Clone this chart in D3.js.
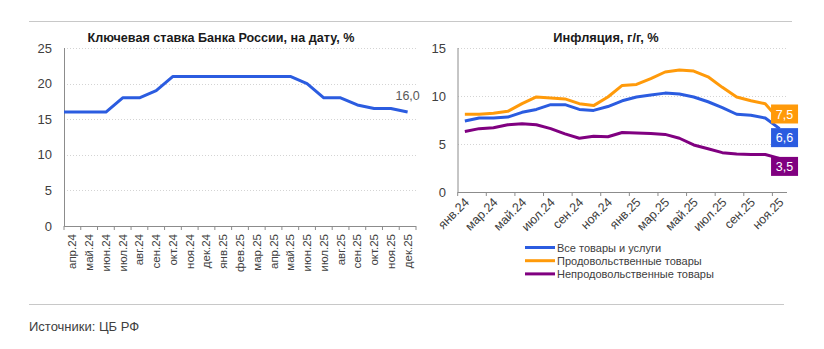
<!DOCTYPE html>
<html>
<head>
<meta charset="utf-8">
<script src="https://cdn.jsdelivr.net/npm/d3@7"></script>
<style>
  body { margin: 0; background: #fff; }
  text { font-family: "Liberation Sans", Arial, sans-serif; }
</style>
</head>
<body>
<svg id="chart" width="824" height="349"></svg>
<script>
// ключевая ставка, на конец месяца
var rateMonths = ["апр.24","май.24","июн.24","июл.24","авг.24","сен.24","окт.24","ноя.24","дек.24",
  "янв.25","фев.25","мар.25","апр.25","май.25","июн.25","июл.25","авг.25","сен.25","окт.25","ноя.25","дек.25"];
var rateValues = [16, 16, 16, 18, 18, 19, 21, 21, 21, 21, 21, 21, 21, 21, 20, 18, 18, 17, 16.5, 16.5, 16];

// инфляция г/г
var inflMonths = ["янв.24","фев.24","мар.24","апр.24","май.24","июн.24","июл.24","авг.24","сен.24","окт.24","ноя.24","дек.24",
  "янв.25","фев.25","мар.25","апр.25","май.25","июн.25","июл.25","авг.25","сен.25","окт.25","ноя.25"];
var allGoods = [7.4, 7.7, 7.7, 7.8, 8.3, 8.6, 9.1, 9.1, 8.6, 8.5, 8.9, 9.5, 9.9, 10.1, 10.3, 10.2, 9.9, 9.4, 8.8, 8.1, 8.0, 7.7, 6.6];
var foodGoods = [8.1, 8.1, 8.2, 8.4, 9.2, 9.9, 9.8, 9.7, 9.2, 9.0, 9.9, 11.1, 11.2, 11.8, 12.5, 12.7, 12.6, 12.0, 10.9, 9.9, 9.5, 9.2, 7.5];
var nonFoodGoods = [6.3, 6.6, 6.7, 7.0, 7.1, 7.0, 6.6, 6.05, 5.6, 5.8, 5.75, 6.2, 6.15, 6.1, 6.0, 5.6, 4.9, 4.5, 4.1, 3.97, 3.9, 3.9, 3.5];
var seriesNames = ["Все товары и услуги", "Продовольственные товары", "Непродовольственные товары"];

var rateTicks = [0, 5, 10, 15, 20, 25];
var inflTicks = [0, 5, 10, 15];

var BLUE = "#2b5ce0", ORANGE = "#ff9a0a", PURPLE = "#800080";
var AXIS = "#8c8c8c", GRID = "#d4d4d4", TXT = "#404040";

var ru = d3.formatLocale({decimal: ",", thousands: " ", grouping: [3], currency: ["", ""]});
var fmt = ru.format(".1f");

var svg = d3.select("#chart");

// разделительные линии
svg.append("line").attr("x1", 29).attr("x2", 792).attr("y1", 21.5).attr("y2", 21.5)
  .attr("stroke", "#c8c8c8").attr("stroke-width", 1.2);
svg.append("line").attr("x1", 29).attr("x2", 784).attr("y1", 304.5).attr("y2", 304.5)
  .attr("stroke", "#c8c8c8").attr("stroke-width", 1.2);
svg.append("text").attr("x", 29).attr("y", 331)
  .attr("font-family", "'Open Sans', sans-serif").attr("font-size", 13).attr("fill", TXT)
  .text("Источники: ЦБ РФ");

function drawGrid(g, y, ticks, x0, x1) {
  g.selectAll(".grid").data(ticks.filter(function(t){ return t > 0; }))
    .enter().append("line")
    .attr("x1", x0).attr("x2", x1)
    .attr("y1", function(d){ return Math.round(y(d)) + 0.5; })
    .attr("y2", function(d){ return Math.round(y(d)) + 0.5; })
    .attr("stroke", GRID).attr("stroke-dasharray", "1,2");
  g.selectAll(".ylab").data(ticks).enter().append("text")
    .attr("x", x0 - 12).attr("y", function(d){ return y(d) + 4.5; })
    .attr("text-anchor", "end").attr("font-size", 13).attr("fill", TXT)
    .text(function(d){ return d; });
}

// ---- левый график: ключевая ставка ----
var gL = svg.append("g");
var xL = d3.scaleBand().domain(rateMonths).range([64, 416]);
var yL = d3.scaleLinear().domain([0, 25]).range([226, 48]);
var bwL = xL.bandwidth();

gL.append("text").attr("x", 221).attr("y", 41.5).attr("text-anchor", "middle")
  .attr("font-weight", "bold").attr("font-size", 12.6).attr("fill", "#1a1a1a")
  .text("Ключевая ставка Банка России, на дату, %");

drawGrid(gL, yL, rateTicks, 64, 416);

gL.append("line").attr("x1", 64.5).attr("x2", 64.5).attr("y1", 48).attr("y2", 226)
  .attr("stroke", AXIS);
gL.append("line").attr("x1", 64).attr("x2", 416).attr("y1", 226.5).attr("y2", 226.5)
  .attr("stroke", AXIS);
gL.selectAll(".tick").data(d3.range(rateMonths.length + 1)).enter().append("line")
  .attr("x1", function(i){ return 64 + i * bwL; }).attr("x2", function(i){ return 64 + i * bwL; })
  .attr("y1", 226).attr("y2", 230).attr("stroke", AXIS);
gL.selectAll(".xlab").data(rateMonths).enter().append("text")
  .attr("transform", function(d){ return "translate(" + (xL(d) + bwL / 2 + 4) + ",234) rotate(-90)"; })
  .attr("text-anchor", "end").attr("font-size", 11.5).attr("fill", TXT)
  .text(function(d){ return d; });

// линия начинается от оси, затем по центрам месяцев
var ratePts = rateValues.map(function(v, i){ return [xL(rateMonths[i]) + bwL / 2, yL(v)]; });
ratePts.unshift([xL.range()[0], yL(rateValues[0])]);
gL.append("path").attr("d", d3.line()(ratePts))
  .attr("fill", "none").attr("stroke", BLUE).attr("stroke-width", 3).attr("stroke-linejoin", "round");
var lastR = rateValues.length - 1;
gL.append("text").attr("x", xL(rateMonths[lastR]) + bwL / 2).attr("y", yL(rateValues[lastR]) - 12)
  .attr("text-anchor", "middle").attr("font-size", 12.5).attr("fill", "#595959")
  .text(fmt(rateValues[lastR]));

// ---- правый график: инфляция ----
var gR = svg.append("g");
var xR = d3.scaleBand().domain(inflMonths).range([457.7, 786.7]);
var yR = d3.scaleLinear().domain([0, 15]).range([192, 48]);
var bwR = xR.bandwidth();

gR.append("text").attr("x", 606).attr("y", 41.5).attr("text-anchor", "middle")
  .attr("font-weight", "bold").attr("font-size", 12.8).attr("fill", "#1a1a1a")
  .text("Инфляция, г/г, %");

drawGrid(gR, yR, inflTicks, 458, 787);

gR.append("line").attr("x1", 458).attr("x2", 458).attr("y1", 48).attr("y2", 192)
  .attr("stroke", AXIS);
gR.append("line").attr("x1", 458).attr("x2", 787).attr("y1", 192.5).attr("y2", 192.5)
  .attr("stroke", AXIS);
var every2 = d3.range(0, inflMonths.length, 2);
gR.selectAll(".tick").data(every2).enter().append("line")
  .attr("x1", function(i){ return 457.7 + i * bwR; }).attr("x2", function(i){ return 457.7 + i * bwR; })
  .attr("y1", 192).attr("y2", 196).attr("stroke", AXIS);
gR.selectAll(".xlab").data(every2).enter().append("text")
  .attr("transform", function(i){ return "translate(" + (xR(inflMonths[i]) + bwR / 2 + 5) + ",203) rotate(-45)"; })
  .attr("text-anchor", "end").attr("font-size", 12.5).attr("fill", TXT)
  .text(function(i){ return inflMonths[i]; });

var series = [
  {name: seriesNames[1], values: foodGoods, color: ORANGE, dy: -6},
  {name: seriesNames[0], values: allGoods, color: BLUE, dy: 9},
  {name: seriesNames[2], values: nonFoodGoods, color: PURPLE, dy: 8}
];
var inflLine = d3.line()
  .x(function(d, i){ return xR(inflMonths[i]) + bwR / 2; })
  .y(function(d){ return yR(d); });

gR.selectAll(".series").data(series).enter().append("path")
  .attr("d", function(s){ return inflLine(s.values); })
  .attr("fill", "none").attr("stroke", function(s){ return s.color; })
  .attr("stroke-width", 3).attr("stroke-linejoin", "round");

var lastI = inflMonths.length - 1;
var lab = gR.selectAll(".lab").data(series).enter().append("g")
  .attr("transform", function(s){
    return "translate(" + (xR(inflMonths[lastI]) + bwR / 2 + 5) + "," + (yR(s.values[lastI]) + s.dy) + ")";
  });
lab.append("rect").attr("x", -13.5).attr("y", -9.5).attr("width", 27).attr("height", 19)
  .attr("fill", function(s){ return s.color; });
lab.append("text").attr("y", 4.5).attr("text-anchor", "middle").attr("font-size", 12.5).attr("fill", "#fff")
  .text(function(s){ return fmt(s.values[lastI]); });

// легенда
var legend = gR.selectAll(".legend").data([series[1], series[0], series[2]]).enter().append("g")
  .attr("transform", function(s, i){ return "translate(525," + (247.5 + i * 13.2) + ")"; });
legend.append("line").attr("x1", 0).attr("x2", 30).attr("stroke", function(s){ return s.color; })
  .attr("stroke-width", 3);
legend.append("text").attr("x", 32).attr("y", 4).attr("font-size", 11).attr("fill", TXT)
  .text(function(s){ return s.name; });
</script>
</body>
</html>
